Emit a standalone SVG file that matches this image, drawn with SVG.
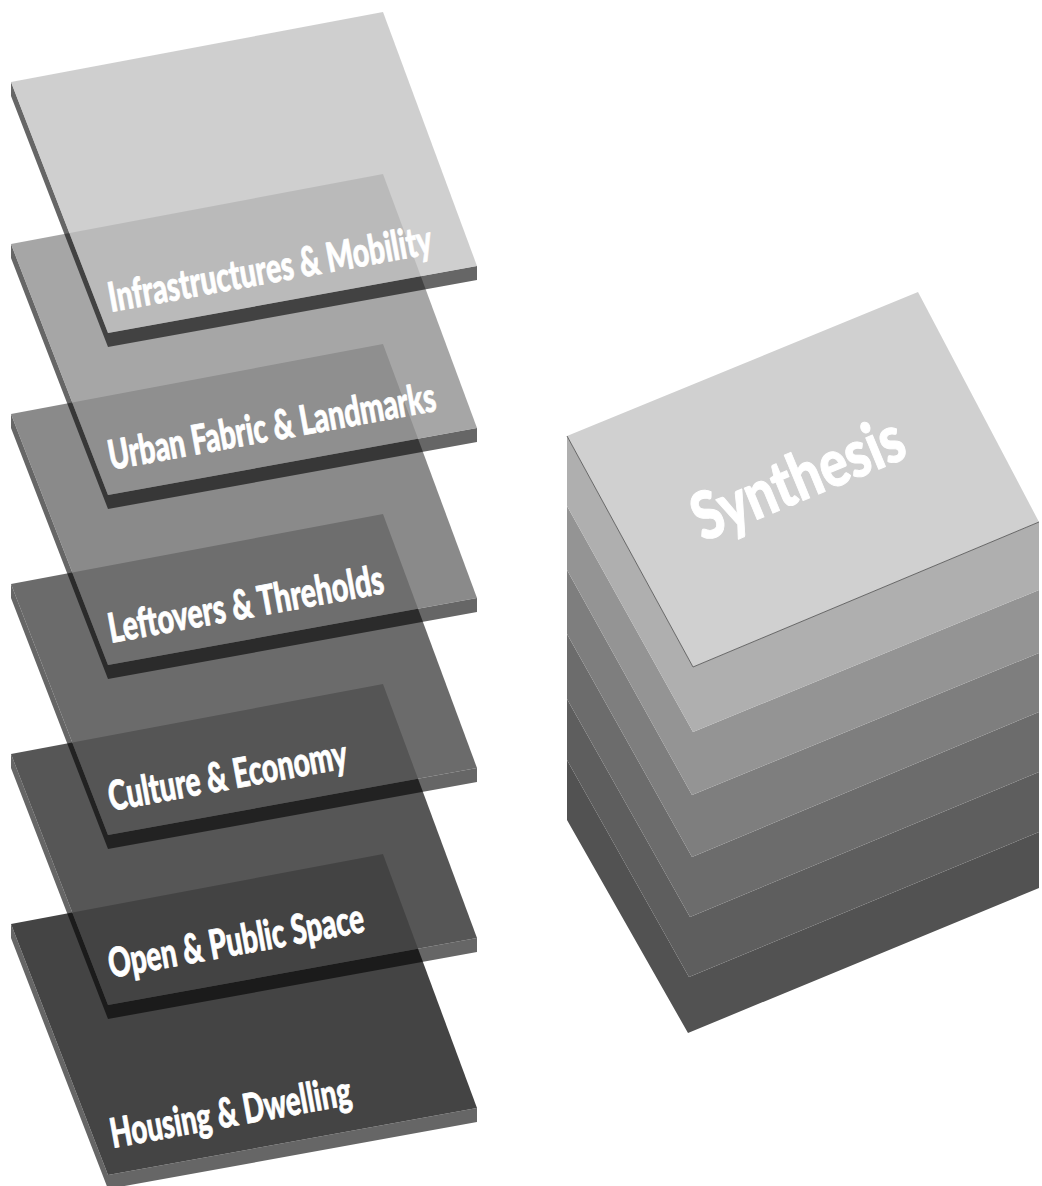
<svg xmlns="http://www.w3.org/2000/svg" xmlns:xlink="http://www.w3.org/1999/xlink" width="1042" height="1186" viewBox="0 0 1042 1186">
<style>
.side{fill:#000;fill-opacity:0.6}
.lbl{font-family:Lato,"Liberation Sans","DejaVu Sans",sans-serif;font-weight:900;font-size:41px;fill:#fff;stroke:#fff;stroke-width:0.8px;stroke-linejoin:round}
.syn{font-family:Lato,"Liberation Sans","DejaVu Sans",sans-serif;font-weight:900;font-size:66px;fill:#fff;stroke:#fff;stroke-width:1px;stroke-linejoin:round}
</style>
<defs>
<polygon id="face" points="11,70 383,0 477,254 108,321"/>
<polygon id="slab" points="11,70 108,321 477,254 477,268 108,335 11,84" stroke-linejoin="round"/>
</defs>
<rect width="1042" height="1186" fill="#fff"/>
<g id="layers">
<g id="housing" transform="translate(0,854)">
<use xlink:href="#slab" href="#slab" class="side"/>
<use xlink:href="#face" href="#face" fill="#444444"/>
<text class="lbl" transform="translate(113,294) rotate(-10.3)" textLength="244" lengthAdjust="spacingAndGlyphs">Housing &amp; Dwelling</text>
</g>
<g id="open-public-space" transform="translate(0,684)">
<use xlink:href="#slab" href="#slab" class="side"/>
<use xlink:href="#face" href="#face" fill="#444444" fill-opacity="0.9"/>
<text class="lbl" transform="translate(111,294) rotate(-10.3)" textLength="259" lengthAdjust="spacingAndGlyphs">Open &amp; Public Space</text>
</g>
<g id="culture-economy" transform="translate(0,514)">
<use xlink:href="#slab" href="#slab" class="side"/>
<use xlink:href="#face" href="#face" fill="#555555" fill-opacity="0.87"/>
<text class="lbl" transform="translate(111,297) rotate(-10.3)" textLength="242" lengthAdjust="spacingAndGlyphs">Culture &amp; Economy</text>
</g>
<g id="leftovers-thresholds" transform="translate(0,344)">
<use xlink:href="#slab" href="#slab" class="side"/>
<use xlink:href="#face" href="#face" fill="#6f6f6f" fill-opacity="0.81"/>
<text class="lbl" transform="translate(111,299) rotate(-10.3)" textLength="279" lengthAdjust="spacingAndGlyphs">Leftovers &amp; Threholds</text>
</g>
<g id="urban-fabric" transform="translate(0,174)">
<use xlink:href="#slab" href="#slab" class="side"/>
<use xlink:href="#face" href="#face" fill="#909090" fill-opacity="0.8"/>
<text class="lbl" transform="translate(111,296) rotate(-10.3)" textLength="332" lengthAdjust="spacingAndGlyphs">Urban Fabric &amp; Landmarks</text>
</g>
<g id="infrastructures" transform="translate(0,12)">
<use xlink:href="#slab" href="#slab" class="side"/>
<use xlink:href="#face" href="#face" fill="#c1c1c1" fill-opacity="0.77"/>
<text class="lbl" transform="translate(111,300) rotate(-10.3)" textLength="328" lengthAdjust="spacingAndGlyphs">Infrastructures &amp; Mobility</text>
</g>
</g>
<g id="synthesis">
<polygon fill="#525252" points="567,760 689,977 1039,832 1039,888 688,1033 567,820"/>
<polygon fill="#5e5e5e" points="567,699 690,917 1039,772 1039,832 689,977 567,760"/>
<polygon fill="#6c6c6c" points="567,634 692,857 1039,712 1039,772 690,917 567,699"/>
<polygon fill="#7e7e7e" points="567,570 692,795 1039,653 1039,712 692,857 567,634"/>
<polygon fill="#949494" points="567,506 693,732 1039,590 1039,653 692,795 567,570"/>
<polygon fill="#afafaf" points="567,436 693,667 1039,522 1039,590 693,732 567,506"/>
<polygon fill="#d0d0d0" points="567,436 918,292 1039,522 693,667"/>
<polyline fill="none" stroke="#5a5a5a" stroke-width="0.9" points="1039,522 693,667 567,436"/>
<text class="syn" transform="translate(703,542) rotate(-22.5)" textLength="224" lengthAdjust="spacingAndGlyphs">Synthesis</text>
</g>
<g id="connectors"/>
</svg>
